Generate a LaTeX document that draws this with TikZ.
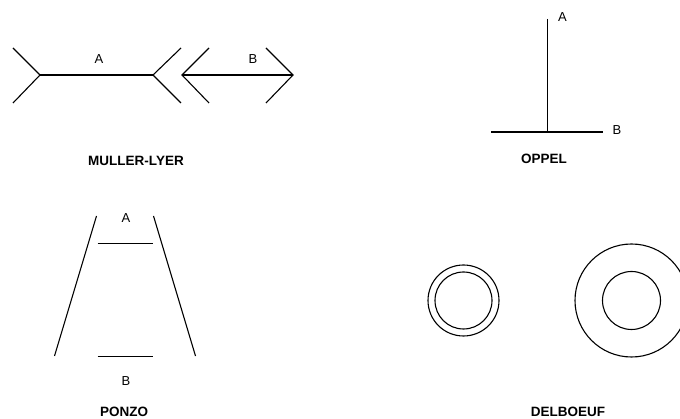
\documentclass[tikz,border=0pt]{standalone}
\usepackage{fontspec}
\setmainfont{Liberation Sans}
\begin{document}
\begin{tikzpicture}[x=1pt,y=-1pt,
  ln/.style={line width=1.1pt,black},
  lbl/.style={font=\fontsize{13}{15}\selectfont,inner sep=0pt,anchor=center},
  ttl/.style={font=\fontsize{13.5}{15}\selectfont\bfseries,inner sep=0pt,anchor=center}]
\useasboundingbox (0,0) rectangle (680,419);
% Muller-Lyer
\coordinate (a1) at (40,75);
\coordinate (a2) at (153,75);
\coordinate (b1) at (182,75);
\coordinate (b2) at (293,75);
\draw[ln] (a1) -- (a2);
\draw[ln] (13,48) -- (a1) -- (13,103);
\draw[ln] (181,48) -- (a2) -- (181,103);
\draw[ln] (b1) -- (b2);
\draw[ln] (209,48) -- (b1) -- (209,103);
\draw[ln] (266,48) -- (b2) -- (266,103);
\node[lbl] (la) at (99,59) {A};
\node[lbl] (lb) at (253,59) {B};
\node[ttl] (t1) at (136,161) {MULLER-LYER};
% Oppel
\coordinate (o1) at (547.5,19);
\coordinate (o2) at (547.5,132);
\coordinate (h1) at (491,132);
\coordinate (h2) at (603,132);
\draw[ln] (o1) -- (o2);
\draw[ln] (h1) -- (h2);
\node[lbl] (oa) at (562.5,17.5) {A};
\node[lbl] (ob) at (617,130) {B};
\node[ttl] (t2) at (544,159) {OPPEL};
% Ponzo
\draw[ln] (96.5,216) -- (54.5,356);
\draw[ln] (153.5,216) -- (195.5,356);
\draw[ln] (97.5,243.5) -- (153,243.5);
\draw[ln] (97.5,356.5) -- (153,356.5);
\node[lbl] (pa) at (126,218) {A};
\node[lbl] (pb) at (126,381) {B};
\node[ttl] (t3) at (124,411.5) {PONZO};
% Delboeuf
\draw[ln] (463.5,300.5) circle (35.5);
\draw[ln] (463.5,300.5) circle (28.5);
\draw[ln] (631.5,300.5) circle (56.5);
\draw[ln] (631.5,300.5) circle (29);
\node[ttl] (t4) at (568,411.5) {DELBOEUF};
\end{tikzpicture}
\end{document}
